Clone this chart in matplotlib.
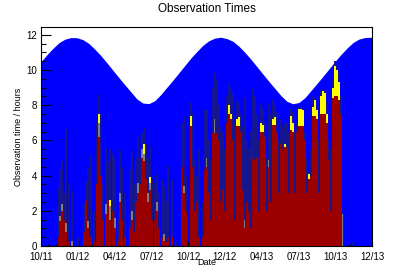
"""Observation times vs. night length (ROOT-style stacked histogram)."""

import matplotlib
matplotlib.use("Agg")
import matplotlib.pyplot as plt
import numpy as np

plt.rcParams["font.family"] = ["Liberation Sans", "DejaVu Sans"]

# night length (hours), one value every 15 days from the first day
night_day = [0, 15, 30, 45, 60, 75, 90, 105, 120, 135, 150, 165, 180, 195,
             210, 225, 240, 255, 270, 285, 300, 315, 330, 345, 360, 375, 390,
             405, 420, 435, 450, 465, 480, 495, 510, 525, 540, 555, 570, 585,
             600, 615, 630, 645, 660, 675, 690, 705, 720, 735, 750, 765, 780,
             795, 810, 828]
night_hours = [10.47, 10.87, 11.23, 11.55, 11.75, 11.84, 11.83, 11.72, 11.50,
               11.17, 10.81, 10.40, 9.98, 9.56, 9.15, 8.75, 8.35, 8.12, 8.09,
               8.26, 8.61, 9.02, 9.42, 9.84, 10.26, 10.68, 11.05, 11.40, 11.66,
               11.81, 11.86, 11.78, 11.63, 11.35, 11.00, 10.61, 10.19, 9.77,
               9.35, 8.95, 8.55, 8.22, 8.08, 8.15, 8.42, 8.82, 9.22, 9.63,
               10.05, 10.47, 10.87, 11.23, 11.55, 11.75, 11.84, 11.86]

# observation nights: day, total time, good (red), grey and yellow parts
obs_day = [45, 47.5, 52.5, 57.5, 62.5, 70, 77.5, 92.5, 107.5, 112.5, 117.5,
           125, 132.5, 140, 145, 150, 155, 162.5, 167.5, 172.5, 180, 185,
           192.5, 197.5, 202.5, 210, 222.5, 227.5, 232.5, 237.5, 242.5, 247.5,
           252.5, 257.5, 262.5, 267.5, 272.5, 277.5, 285, 290, 295, 302.5,
           307.5, 312.5, 317.5, 327.5, 337.5, 352.5, 357.5, 362.5, 375, 380,
           385, 390, 395, 405,
           410, 415, 420, 425, 430, 435, 440, 445, 450, 455, 460, 465, 470,
           475, 480, 485, 490, 495, 500, 505, 510, 515, 520, 525, 530, 535,
           540, 545, 550, 555, 560, 565, 570, 575, 580, 585, 590, 595, 600,
           605, 610, 615, 620,
           625, 630, 635, 640, 645, 650, 655, 660, 665, 670, 675, 680, 685,
           690, 695, 700, 705, 710, 715, 720, 725, 730, 735, 740, 745, 750,
           755, 780]
obs_total = [3.3, 4.3, 4.8, 3.0, 6.6, 3.6, 3.2, 0.5, 2.4, 3.7, 4.5,
             5.1, 2.0, 7.0, 8.6, 7.5, 3.5, 5.5, 4.8, 5.5, 5.3, 5.0,
             1.5, 5.5, 4.5, 3.0, 4.4, 5.4, 3.5, 5.0, 6.2, 5.0,
             6.4, 6.7, 5.8, 5.0, 5.6, 3.8, 3.6, 4.1, 3.0, 3.8,
             3.4, 2.5, 4.6, 3.8, 0.3, 7.0, 7.4, 4.0, 8.2, 7.5,
             4.9, 4.0, 5.5, 2.5,
             7.7, 7.7, 6.0, 5.0, 9.0, 9.8, 9.5, 8.0, 6.8, 6.5, 5.5, 8.5, 9.2,
             8.9, 8.7, 7.0, 8.3, 8.1, 7.5, 6.8, 8.4, 6.0, 5.5, 6.5, 8.9, 8.5,
             7.5, 6.0, 8.1, 7.8, 7.0, 5.0, 8.1, 7.5, 8.3, 8.0, 7.6, 6.0, 7.2,
             6.8, 7.0, 7.0, 6.5,
             7.8, 7.6, 6.5, 7.0, 7.9, 7.9, 7.8, 6.5, 5.0, 4.2, 5.5, 8.5, 8.4,
             8.0, 6.0, 8.8, 8.9, 8.8, 8.2, 6.0, 5.5, 9.5, 10.5, 10.3, 9.8, 8.5,
             1.8, 0.2]
obs_red = [0.5, 1.4, 2.0, 1.5, 0.8, 0.3, 0.0, 0.0, 0.8, 2.6, 1.0,
           0.5, 0.3, 3.5, 6.2, 4.0, 1.5, 1.8, 2.6, 1.5, 2.0, 1.0,
           0.3, 2.5, 1.5, 0.5, 1.0, 1.5, 0.8, 2.5, 3.0, 3.5,
           5.0, 4.8, 3.8, 2.5, 3.2, 1.5, 1.5, 2.0, 1.0, 0.5,
           0.3, 0.2, 0.5, 0.5, 0.0, 4.5, 3.0, 2.0, 6.8, 4.5,
           2.0, 2.5, 0.5, 0.5,
           4.3, 4.5, 3.0, 1.5, 6.4, 6.4, 6.4, 6.0, 2.5, 3.2, 2.0, 7.0, 7.5,
           7.2, 6.0, 1.5, 6.8, 6.8, 6.5, 3.2, 1.0, 2.5, 2.0, 1.0, 5.0, 4.9,
           5.0, 2.0, 6.5, 6.5, 6.2, 2.0, 4.5, 2.5, 6.9, 6.9, 6.5, 3.0, 5.8,
           5.5, 5.6, 5.6, 3.0,
           6.6, 6.5, 3.0, 6.5, 6.8, 6.8, 6.8, 6.0, 3.0, 3.8, 4.0, 7.4, 7.4,
           7.2, 3.0, 7.5, 7.5, 7.5, 7.0, 4.9, 2.0, 8.4, 8.5, 8.5, 8.3, 7.5,
           0.0, 0.0]
obs_grey = [0.0, 0.3, 0.4, 0.0, 0.5, 0.0, 0.3, 0.0, 0.0, 0.0, 0.4,
            0.0, 0.0, 0.0, 0.8, 0.0, 0.0, 0.6, 0.0, 0.8, 0.0, 0.6,
            0.0, 0.5, 0.0, 0.0, 0.0, 0.5, 0.0, 0.0, 0.6, 0.0,
            0.5, 0.4, 0.0, 0.5, 0.4, 0.0, 0.0, 0.5, 0.0, 0.0,
            0.4, 0.0, 0.0, 0.0, 0.0, 0.0, 0.4, 0.0, 0.0, 0.0,
            0.0, 0.0, 0.0, 0.0,
            0.0, 0.5, 0.0, 0.0, 0.0, 0.8, 0.0, 0.0, 0.0, 0.0, 0.0, 0.0, 0.0,
            0.0, 0.0, 0.0, 0.0, 0.0, 0.0, 0.0, 0.5, 0.0, 0.0, 0.0, 0.0, 0.0,
            0.0, 0.0, 0.0, 0.0, 0.0, 0.0, 0.4, 0.0, 0.0, 0.0, 0.0, 0.0, 0.0,
            0.0, 0.0, 0.0, 0.0,
            0.0, 0.0, 0.0, 0.0, 0.0, 0.0, 0.0, 0.0, 0.0, 0.0, 0.0, 0.0, 0.0,
            0.0, 0.0, 0.0, 0.0, 0.0, 0.0, 0.0, 0.0, 0.0, 0.0, 0.0, 0.0, 0.0,
            1.8, 0.0]
obs_yellow = [0.0, 0.0, 0.0, 0.0, 0.0, 0.0, 0.0, 0.0, 0.0, 0.0, 0.0,
              0.0, 0.0, 0.0, 0.5, 0.0, 0.0, 0.0, 0.0, 0.3, 0.0, 0.0,
              0.0, 0.0, 0.0, 0.0, 0.0, 0.0, 0.0, 0.0, 0.0, 0.0,
              0.0, 0.6, 0.0, 0.0, 0.3, 0.0, 0.0, 0.0, 0.0, 0.0,
              0.0, 0.0, 0.0, 0.0, 0.0, 0.0, 0.0, 0.0, 0.6, 0.0,
              0.0, 0.0, 0.0, 0.0,
              0.0, 0.0, 0.0, 0.0, 0.0, 0.0, 0.0, 0.0, 0.0, 0.0, 0.0, 0.0, 0.5,
              0.3, 0.0, 0.0, 0.4, 0.5, 0.0, 0.0, 0.0, 0.0, 0.0, 0.0, 0.0, 0.0,
              0.0, 0.0, 0.5, 0.4, 0.0, 0.0, 0.0, 0.0, 0.3, 0.4, 0.0, 0.0, 0.0,
              0.0, 0.2, 0.0, 0.0,
              0.8, 0.5, 0.0, 0.0, 1.0, 1.0, 0.9, 0.0, 0.0, 0.3, 0.0, 0.5, 0.9,
              0.5, 0.0, 1.0, 1.3, 1.2, 0.5, 0.0, 0.0, 0.6, 1.7, 1.5, 1.0, 0.0,
              0.0, 0.0]

tick_labels = ["10/11", "01/12", "04/12", "07/12", "10/12", "12/12",
               "04/13", "07/13", "10/13", "12/13"]
x_end = 828

fig = plt.figure(figsize=(4.14, 2.74), dpi=100)
ax = fig.add_axes([41 / 414, 1 - 246 / 274, 331 / 414, 219 / 274])

ax.fill_between(night_day, 0, night_hours, color="#0000ff", lw=0, zorder=1)

day = np.array(obs_day)
red = np.array(obs_red)
grey = np.array(obs_grey)
yellow = np.array(obs_yellow)
w = 5
ax.bar(day, obs_total, width=w, color="#16168e", lw=0, zorder=2)
ax.bar(day, red, width=w, color="#9b0000", lw=0, zorder=3)
ax.bar(day, grey, width=w * 0.6, bottom=red, color="#7f7f7f", lw=0, zorder=3)
ax.bar(day, yellow, width=w * 0.8, bottom=red + grey, color="#ffff00", lw=0, zorder=3)

ax.set_xlim(0, x_end)
ax.set_ylim(0, 12.44)
ax.set_xticks(np.linspace(0, x_end, len(tick_labels)))
ax.set_xticklabels(tick_labels, fontsize=7)
ax.set_xticks(np.linspace(0, x_end, (len(tick_labels) - 1) * 5 + 1), minor=True)
ax.set_yticks(range(0, 13, 2))
ax.set_yticks(np.arange(0, 12.5, 0.5), minor=True)
ax.tick_params(axis="y", which="major", direction="in", length=7, width=0.8, labelsize=7, pad=3)
ax.tick_params(axis="y", which="minor", direction="in", length=3.5, width=0.8)
ax.tick_params(axis="x", which="major", direction="in", length=3, width=0.8, pad=4.2)
ax.tick_params(axis="x", which="minor", direction="in", length=1.5, width=0.6)
for s in ax.spines.values():
    s.set_linewidth(0.8)
    s.set_zorder(5)

ax.set_xlabel("Date", fontsize=6.5, labelpad=-2.5)
ax.set_ylabel("Observation time / hours", fontsize=6.5, labelpad=2)
fig.text(207 / 414, 1 - 9 / 274, "Observation Times", ha="center", va="center", fontsize=8.5)

fig.savefig("out.png", dpi=100, facecolor="white")
